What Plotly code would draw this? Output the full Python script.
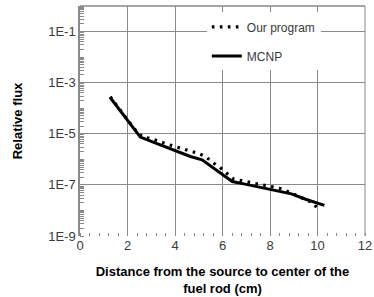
import plotly.graph_objects as go

# Data
x_our = [1.27, 1.6, 1.95, 2.3, 2.6, 2.93, 3.27, 3.61, 3.92, 4.28, 4.62, 4.96, 5.29, 5.57,
         5.88, 6.16, 6.48, 6.77, 7.12, 7.47, 7.78, 8.1, 8.43, 8.77, 9.1, 9.42, 9.73, 10.01]
y_our = [2.82e-4, 1.07e-4, 3.98e-5, 1.51e-5, 7.94e-6, 6.76e-6, 5.37e-6, 4.07e-6, 3.39e-6,
         2.75e-6, 2.24e-6, 1.74e-6, 1.29e-6, 7.76e-7, 4.90e-7, 2.88e-7, 1.66e-7, 1.48e-7,
         1.29e-7, 1.10e-7, 9.55e-8, 8.51e-8, 7.24e-8, 5.37e-8, 3.98e-8, 3.02e-8, 2.14e-8, 1.23e-8]

x_mcnp = [1.27, 1.6, 1.95, 2.3, 2.54, 3.0, 3.5, 4.0, 4.65, 5.14, 5.5, 6.0, 6.41, 7.0,
          7.5, 8.0, 8.5, 8.9, 9.5, 10.29]
y_mcnp = [2.63e-4, 1.05e-4, 3.89e-5, 1.41e-5, 7.41e-6, 5.01e-6, 3.31e-6, 2.24e-6, 1.29e-6,
          9.55e-7, 5.37e-7, 2.51e-7, 1.35e-7, 1.05e-7, 8.32e-8, 6.61e-8, 5.37e-8, 4.47e-8,
          2.75e-8, 1.58e-8]

y_tickvals = [1e-9, 1e-7, 1e-5, 1e-3, 1e-1]
y_ticktext = ["1E-9", "1E-7", "1E-5", "1E-3", "1E-1"]
x_tickvals = [0, 2, 4, 6, 8, 10, 12]

GRID = "#8a8a8a"
FONT = "Liberation Sans, Arial, sans-serif"

fig = go.Figure()
fig.add_trace(go.Scatter(
    x=x_our, y=y_our, mode="lines", name="Our program",
    line=dict(color="black", width=3.2, dash="2.6px,5.4px"),
    legendgroup="a",
))
fig.add_trace(go.Scatter(
    x=x_mcnp, y=y_mcnp, mode="lines", name="MCNP",
    line=dict(color="black", width=3),
    legendgroup="b",
))

fig.update_layout(
    width=374, height=297,
    margin=dict(l=80, r=9, t=6, b=61, autoexpand=False),
    paper_bgcolor="white", plot_bgcolor="white",
    font=dict(family=FONT, size=12, color="#333333"),
    showlegend=True,
    legend=dict(
        x=0.445, y=0.972, xanchor="left", yanchor="top",
        bgcolor="white", borderwidth=0,
        font=dict(family=FONT, size=12, color="#3a3a3a"),
        tracegroupgap=10,
    ),
    xaxis=dict(
        range=[0, 12], tickvals=x_tickvals, ticks="", automargin=False,
        showgrid=True, gridcolor=GRID, gridwidth=1,
        showline=False, zeroline=False,
        tickfont=dict(family=FONT, size=13, color="#3a3a3a"),
        minor=dict(ticks="inside", dtick=0.4, tick0=0, ticklen=3, tickcolor=GRID, showgrid=False),
        title=dict(text="<b>Distance from the source to center of the<br>fuel rod (cm)</b>",
                   font=dict(family=FONT, size=13, color="black"), standoff=14),
    ),
    yaxis=dict(
        type="log", range=[-9, 0], automargin=False,
        tickvals=y_tickvals, ticktext=y_ticktext, ticks="",
        showgrid=True, gridcolor=GRID, gridwidth=1,
        showline=True, linecolor=GRID, linewidth=1.5,
        zeroline=False,
        tickfont=dict(family=FONT, size=13, color="#3a3a3a"),
        minor=dict(ticks="inside", dtick="D1", ticklen=4, tickcolor=GRID, showgrid=False),
        title=dict(text="<b>Relative flux</b>",
                   font=dict(family=FONT, size=13, color="black"), standoff=23),
    ),
    shapes=[
        dict(type="line", xref="paper", yref="paper", x0=0, x1=1, y0=1, y1=1,
             line=dict(color=GRID, width=1.5)),
        dict(type="line", xref="paper", yref="paper", x0=1, x1=1, y0=0, y1=1,
             line=dict(color=GRID, width=1)),
        dict(type="rect", xref="paper", yref="paper", x0=0.379, x1=0.901, y0=0.73, y1=0.983,
             fillcolor="white", line=dict(width=0), layer="between"),
    ],
)

fig.write_html("out.html", config={"displayModeBar": False},
               post_script="document.body.style.margin='0px';")
